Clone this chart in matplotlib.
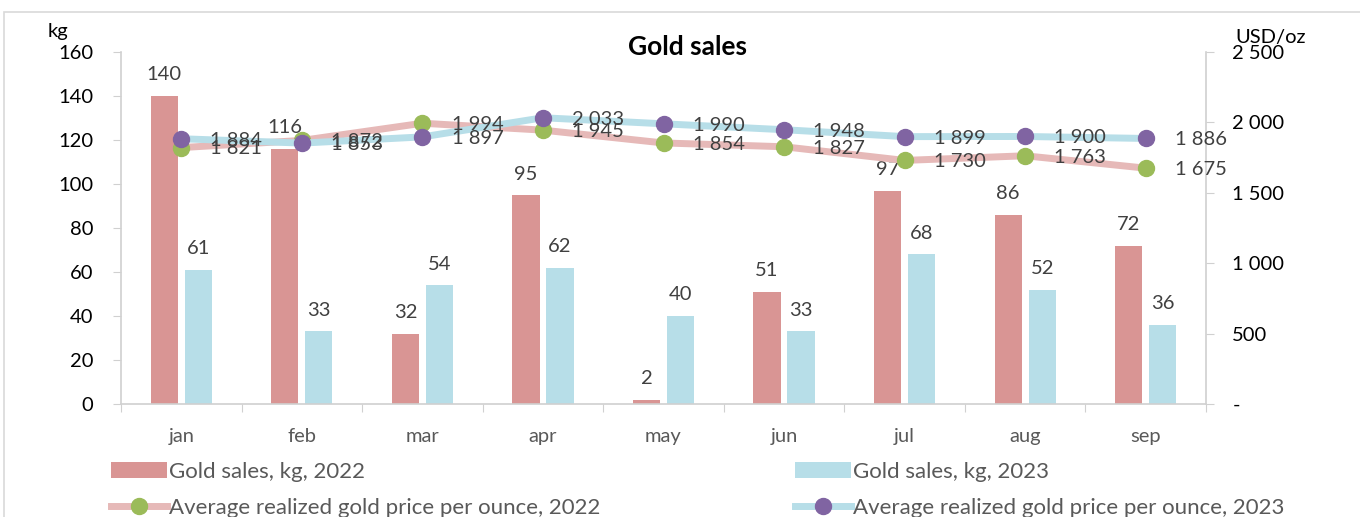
#!/usr/bin/env python3

import matplotlib.pyplot as plt
from matplotlib.patches import Rectangle
from matplotlib.ticker import FuncFormatter
import numpy as np

months = ["jan", "feb", "mar", "apr", "may", "jun", "jul", "aug", "sep"]
sales_2022 = [140, 116, 32, 95, 2, 51, 97, 86, 72]
sales_2023 = [61, 33, 54, 62, 40, 33, 68, 52, 36]
price_2022 = [1821, 1872, 1994, 1945, 1854, 1827, 1730, 1763, 1675]
price_2023 = [1884, 1853, 1897, 2033, 1990, 1948, 1899, 1900, 1886]

plt.rcParams['font.family'] = ['Lato', 'DejaVu Sans']

BAR22 = "#D99594"
BAR23 = "#B7DEE8"
LINE22 = "#E6B9B8"
LINE23 = "#B7DEE8"
DOT22 = "#9BBB59"
DOT23 = "#8064A2"
GRID = "#D0D0D0"
TXT = "#404040"
FS = 14.5


def thousands(v, pos):
    if v == 0:
        return "-"
    return "{:,.0f}".format(v).replace(",", " ")


fig = plt.figure(figsize=(13.6, 5.17), dpi=100)
ax = fig.add_axes([121 / 1360, 1 - 404 / 517, (1206 - 121) / 1360, (404 - 52) / 517])

x = np.arange(len(months))
w = 0.225
b1 = ax.bar(x - 0.141, sales_2022, w, color=BAR22, label="Gold sales, kg, 2022")
b2 = ax.bar(x + 0.141, sales_2023, w, color=BAR23, label="Gold sales, kg, 2023")
ax.bar_label(b1, padding=9, fontsize=FS, color=TXT)
ax.bar_label(b2, padding=9, fontsize=FS, color=TXT)

ax.set_xlim(-0.5, len(months) - 0.5)
ax.set_ylim(0, 160)
ax.set_yticks(range(0, 161, 20))
ax.set_xticks(np.arange(-0.5, len(months), 1))
ax.set_xticklabels([])
ax.set_xticks(x, minor=True)
ax.set_xticklabels(months, minor=True, fontsize=FS, color="#595959")
ax.tick_params(axis="x", which="major", length=6, color=GRID, direction="out")
ax.tick_params(axis="x", which="minor", length=0, pad=17)
ax.tick_params(axis="y", length=6, color=GRID, labelsize=FS, pad=14)
for s in ["top", "right"]:
    ax.spines[s].set_visible(False)
for s in ["left", "bottom"]:
    ax.spines[s].set_color(GRID)
    ax.spines[s].set_linewidth(1.2)

ax2 = ax.twinx()
l1, = ax2.plot(x, price_2022, color=LINE22, lw=5, marker="o", ms=11.5,
               mfc=DOT22, mec=DOT22, label="Average realized gold price per ounce, 2022")
l2, = ax2.plot(x, price_2023, color=LINE23, lw=5, marker="o", ms=11.5,
               mfc=DOT23, mec=DOT23, label="Average realized gold price per ounce, 2023")
for xi, v in zip(x, price_2022):
    ax2.annotate(thousands(v, None), (xi, v), xytext=(21, -1), textcoords="offset points",
                 ha="left", va="center", fontsize=FS, color=TXT)
for xi, v in zip(x, price_2023):
    ax2.annotate(thousands(v, None), (xi, v), xytext=(21, -1), textcoords="offset points",
                 ha="left", va="center", fontsize=FS, color=TXT)
ax2.set_ylim(0, 2500)
ax2.set_yticks(range(0, 2501, 500))
ax2.yaxis.set_major_formatter(FuncFormatter(thousands))
ax2.tick_params(axis="y", length=6, color=GRID, labelsize=FS, pad=13)
for s in ["top", "left", "bottom"]:
    ax2.spines[s].set_visible(False)
ax2.spines["right"].set_color(GRID)
ax2.spines["right"].set_linewidth(1.2)

fig.text(688 / 1360, 1 - 47 / 517, "Gold sales", ha="center", va="center",
         fontsize=19, fontweight="bold")
fig.text(58 / 1360, 1 - 32 / 517, "kg", ha="center", va="center", fontsize=FS)
fig.text(1271 / 1360, 1 - 38 / 517, "USD/oz", ha="center", va="center", fontsize=FS)

leg_kw = dict(frameon=False, fontsize=16, handlelength=2.5, handleheight=0.7,
              handletextpad=0.1, labelspacing=0.72, labelcolor="#595959")
fig.legend([b1, l1], [b1.get_label(), l1.get_label()], loc="upper left",
           bbox_to_anchor=(91 / 1360, 1 - 442 / 517), **leg_kw)
fig.legend([b2, l2], [b2.get_label(), l2.get_label()], loc="upper left",
           bbox_to_anchor=(775 / 1360, 1 - 442 / 517), **leg_kw)

fig.patches.append(Rectangle((3.5 / 1360, -0.1), 1.2, 1.1 - 12 / 517, transform=fig.transFigure,
                             fill=False, edgecolor="#D9D9D9", lw=1.2))

fig.savefig("out.png", dpi=100)
